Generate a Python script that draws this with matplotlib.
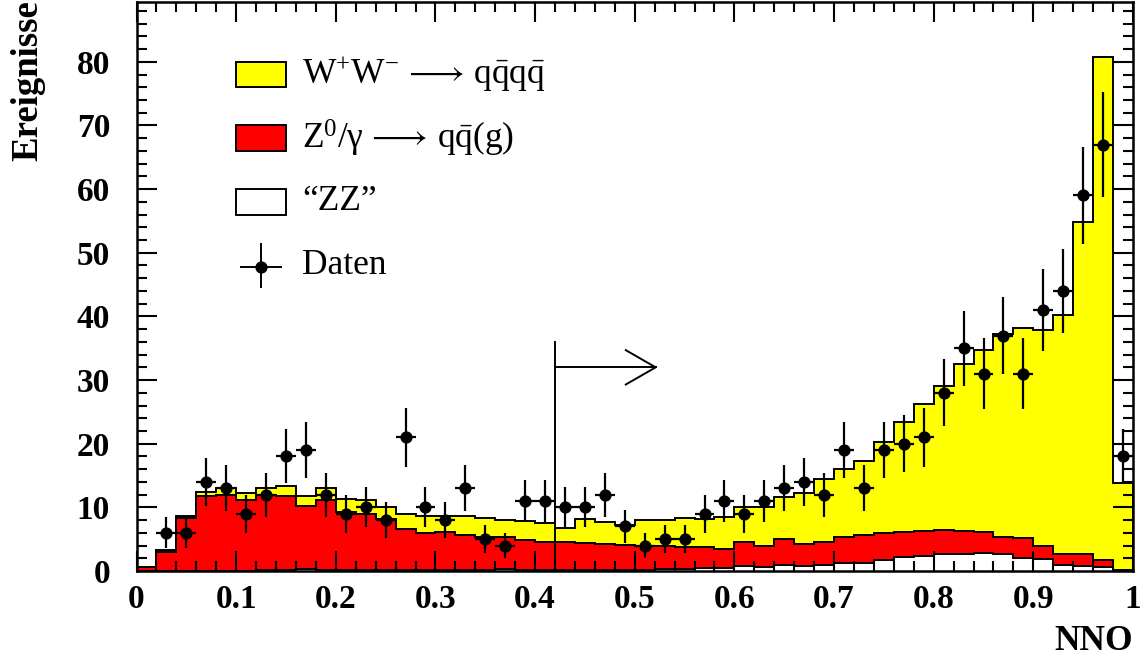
import numpy as np
import matplotlib
matplotlib.use("Agg")
import matplotlib.pyplot as plt
from matplotlib.ticker import MultipleLocator, FixedLocator

plt.rcParams['font.family'] = ['Liberation Serif', 'DejaVu Serif']
plt.rcParams['mathtext.fontset'] = 'custom'
plt.rcParams['mathtext.rm'] = 'Liberation Serif'
plt.rcParams['mathtext.it'] = 'Liberation Serif:italic'
plt.rcParams['mathtext.bf'] = 'Liberation Serif:bold'

# NNO output, 50 bins between 0 and 1
bin_edges = np.linspace(0.0, 1.0, 51)

# Expected events per bin for each process
ww_qqqq = [0.0, 0.3, 0.3, 0.6, 1.0, 1.1, 1.1, 1.6, 1.6, 2.0,
           2.0, 2.1, 2.0, 2.4, 2.7, 2.4, 2.9, 2.9, 2.6, 3.0,
           3.0, 2.2, 3.85, 3.55, 3.1, 4.1, 4.1, 4.6, 4.5, 5.1,
           5.6, 6.2, 6.6, 8.1, 9.8, 10.8, 11.6, 14.3, 17.3, 19.9,
           22.7, 26.3, 28.6, 31.8, 33.0, 33.8, 37.6, 52.3, 79.0, 13.7]
z_qqg = [0.6, 3.0, 8.3, 11.8, 12.0, 11.1, 11.75, 11.65, 9.85, 10.95,
         9.15, 8.85, 7.95, 6.45, 5.85, 6.05, 5.55, 5.25, 5.05, 4.75,
         4.35, 4.3, 4.15, 4.0, 3.9, 3.7, 3.65, 3.5, 3.3, 3.0,
         3.7, 3.2, 4.1, 3.4, 3.65, 4.0, 4.4, 4.1, 3.95, 3.9,
         3.8, 3.7, 3.3, 2.8, 3.1, 2.15, 1.6, 1.75, 1.0, 0.1]
zz = [0.0, 0.0, 0.0, 0.0, 0.0, 0.0, 0.15, 0.15, 0.35, 0.15,
      0.15, 0.15, 0.15, 0.15, 0.15, 0.15, 0.15, 0.15, 0.35, 0.15,
      0.15, 0.2, 0.2, 0.2, 0.2, 0.2, 0.25, 0.3, 0.4, 0.4,
      0.8, 0.7, 0.9, 0.8, 0.95, 1.3, 1.3, 1.8, 2.15, 2.4,
      2.6, 2.6, 2.8, 2.6, 2.1, 1.85, 1.0, 0.85, 0.7, 0.0]

# Observed events per bin
daten = [0, 6, 6, 14, 13, 9, 12, 18, 19, 12,
         9, 10, 8, 21, 10, 8, 13, 5, 4, 11,
         11, 10, 10, 12, 7, 4, 5, 5, 9, 11,
         9, 11, 13, 14, 12, 19, 13, 19, 20, 21,
         28, 35, 31, 37, 31, 41, 44, 59, 67, 18]

# Selection cut on the NNO output
nno_cut = 0.42

x_ticks = [0, 0.1, 0.2, 0.3, 0.4, 0.5, 0.6, 0.7, 0.8, 0.9, 1.0]
x_tick_labels = ['0', '0.1', '0.2', '0.3', '0.4', '0.5', '0.6', '0.7', '0.8', '0.9', '1']

W, H = 1144, 661
fig = plt.figure(figsize=(W / 100, H / 100), dpi=100)
ax = fig.add_axes([136.5 / W, 1 - 571 / H, (1133 - 136.5) / W, 569 / H])

zz_a = np.array(zz)
zq_a = zz_a + np.array(z_qqg)
tot_a = zq_a + np.array(ww_qqqq)

lw_hist = 1.4
for vals, col in [(tot_a, '#ffff00'), (zq_a, '#ff0000'), (zz_a, 'white')]:
    ax.stairs(vals, bin_edges, fill=True, facecolor=col, edgecolor='none', zorder=1)
    ax.stairs(vals, bin_edges, fill=False, color='black', linewidth=lw_hist, zorder=1.2)

# data points with Poisson errors
centers = 0.5 * (bin_edges[:-1] + bin_edges[1:])
n = np.array(daten, dtype=float)
m = n > 0
ax.errorbar(centers[m], n[m], yerr=np.sqrt(n[m]), xerr=0.01, fmt='o',
            color='black', ms=7.8, elinewidth=1.6, capsize=0, zorder=3)

# cut marker with open arrow
ax.plot([nno_cut, nno_cut], [0, 36], color='black', lw=1.4, zorder=3)
ax.plot([nno_cut, nno_cut + 0.101], [32, 32], color='black', lw=1.4, zorder=3)
ax.plot([nno_cut + 0.071, nno_cut + 0.101, nno_cut + 0.071], [34.7, 32, 29.3],
        color='black', lw=1.4, zorder=3)

ax.set_xlim(0, 1)
ax.set_ylim(0, 89.4)

ax.xaxis.set_major_locator(FixedLocator(x_ticks))
ax.set_xticklabels(x_tick_labels)
ax.xaxis.set_minor_locator(MultipleLocator(0.02))
ax.yaxis.set_major_locator(MultipleLocator(10))
ax.yaxis.set_minor_locator(MultipleLocator(2))

ax.tick_params(which='both', direction='in', top=True, right=True, width=1.5)
ax.tick_params(which='major', length=14.4)
ax.tick_params(which='minor', length=7.2)
ax.tick_params(axis='x', which='major', pad=9, labelsize=24)
ax.tick_params(axis='y', which='major', pad=19, labelsize=24)
for lab in ax.get_xticklabels() + ax.get_yticklabels():
    lab.set_fontweight('bold')
for sp in ax.spines.values():
    sp.set_linewidth(1.8)
    sp.set_zorder(4)

# legend
leg_x0, leg_x1 = 0.0999, 0.150
entries = [('#ffff00', r'$\mathrm{W^{+}W^{-}}\,\longrightarrow\,\mathrm{q\bar{q}q\bar{q}}$', 78),
           ('#ff0000', r'$\mathrm{Z^{0}/γ}\,\longrightarrow\,\mathrm{q\bar{q}(g)}$', 68),
           ('white', '\u201cZZ\u201d', 58)]
for col, txt, yc in entries:
    ax.add_patch(plt.Rectangle((leg_x0, yc - 2.0), leg_x1 - leg_x0, 4.0,
                               facecolor=col, edgecolor='black', lw=1.4, zorder=3))
    ax.text(0.166, yc, txt, fontsize=25.5, va='center', ha='left', zorder=3)
ax.plot([0.1046, 0.1447], [47.8, 47.8], color='black', lw=1.4, zorder=3)
ax.plot([0.1245, 0.1245], [44.6, 51.4], color='black', lw=1.4, zorder=3)
ax.plot([0.1245], [47.8], 'o', color='black', ms=7.8, zorder=3)
ax.text(0.166, 48, 'Daten', fontsize=25.5, va='center', ha='left', zorder=3)

fig.text(28 / W, 1 - 0 / H, 'Ereignisse', rotation=90, ha='center', va='top',
         fontsize=26.5, fontweight='bold')
fig.text(1133 / W, 1 - 641 / H, 'NNO', ha='right', va='center',
         fontsize=25.5, fontweight='bold')

fig.savefig('out.png', dpi=100)
